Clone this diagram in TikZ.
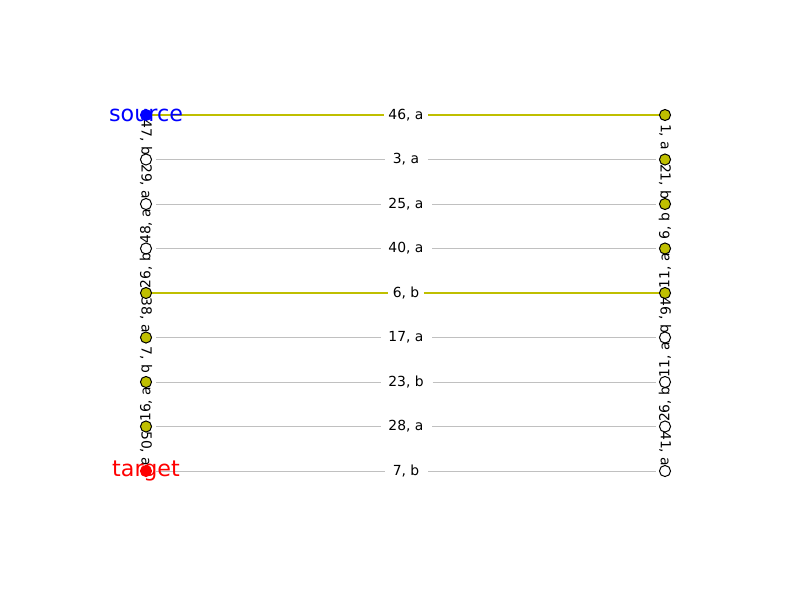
\documentclass[tikz,border=0pt]{standalone}
\usepackage{fontspec}
\setmainfont{DejaVu Sans}
\usetikzlibrary{calc}

\definecolor{hitcol}{HTML}{BFBF00}
\definecolor{edgegray}{HTML}{C0C0C0}

\begin{document}
\begin{tikzpicture}[x=0.72pt,y=-0.72pt,
    font=\fontsize{10}{12}\selectfont,
    vtx/.style={circle,draw=black,line width=0.72pt,inner sep=0pt,minimum size=8pt},
    idle/.style={vtx,fill=white},
    hit/.style={vtx,fill=hitcol},
    src/.style={vtx,draw=blue,fill=blue},
    tgt/.style={vtx,draw=red,fill=red},
    idleedge/.style={draw=edgegray,line width=0.72pt,shorten <=3pt,shorten >=2pt},
    hitedge/.style={draw=hitcol,line width=1.5pt},
    midlabel/.style={fill=white,inner xsep=3.2pt,inner ysep=1pt},
    down/.style={rotate=-90,inner sep=0pt},
    up/.style={rotate=90,inner sep=0pt}]
  \useasboundingbox (0,0) rectangle (800,600);

  % two columns of vertices and the labels in between
  \foreach \i/\txt/\lf/\rf/\ed in {1/{46, a}/src/hit/hitedge, 2/{3, a}/idle/hit/idleedge,
      3/{25, a}/idle/hit/idleedge, 4/{40, a}/idle/hit/idleedge, 5/{6, b}/hit/hit/hitedge,
      6/{17, a}/hit/idle/idleedge, 7/{23, b}/hit/idle/idleedge, 8/{28, a}/hit/idle/idleedge,
      9/{7, b}/tgt/idle/idleedge} {
    \node[\lf] (L\i) at (146,{115+44.5*(\i-1)}) {};
    \node[\rf] (R\i) at (665,{115+44.5*(\i-1)}) {};
    \node[midlabel] (M\i) at (406,{115+44.5*(\i-1)}) {\txt};
    \draw[\ed] (L\i) -- (M\i);
    \draw[\ed] (M\i) -- (R\i);
  }

  % rotated labels along the left column
  \foreach \i/\j/\dir/\txt in {1/2/down/{47, b}, 2/3/down/{29, a}, 3/4/up/{48, a},
      4/5/up/{26, b}, 5/6/down/{38, a}, 6/7/down/{7, b}, 7/8/up/{16, a}, 8/9/down/{50, a}}
    \node[\dir] (lt\i) at ($(L\i)!0.5!(L\j)$) {\txt};

  % rotated labels along the right column
  \foreach \i/\j/\dir/\txt in {1/2/down/{1, a}, 2/3/down/{21, b}, 3/4/up/{6, b},
      4/5/up/{11, a}, 5/6/down/{46, b}, 6/7/up/{11, a}, 7/8/up/{26, b}, 8/9/down/{41, a}}
    \node[\dir] (rt\i) at ($(R\i)!0.5!(R\j)$) {\txt};

  \node[text=blue,font=\fontsize{16}{19}\selectfont] (srcname) at (L1) {source};
  \node[text=red,font=\fontsize{16}{19}\selectfont] (tgtname) at (L9) {target};
\end{tikzpicture}
\end{document}
